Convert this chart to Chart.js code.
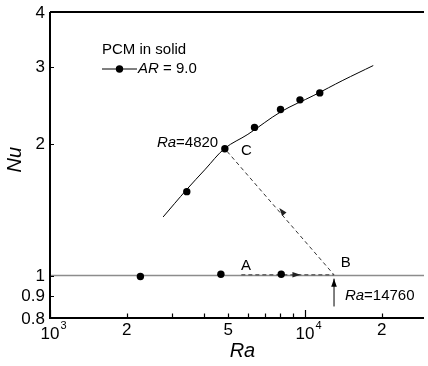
<!DOCTYPE html>
<html>
<head>
<meta charset="utf-8">
<script src="https://cdn.jsdelivr.net/npm/chart.js@4.4.1/dist/chart.umd.min.js"></script>
<style>
  html, body { margin: 0; padding: 0; background: #fff; }
  #wrap { width: 428px; height: 366px; position: relative; }
</style>
</head>
<body>
<div id="wrap"><canvas id="nuChart"></canvas></div>
<script>
// Fitted curve Nu(Ra) for PCM in solid, AR = 9.0
const curveRa = [2777, 3432, 4067, 4851, 5972, 8040, 10840, 14080, 18530];
const curveNu = [1.361, 1.571, 1.750, 1.953, 2.102, 2.366, 2.580, 2.792, 3.018];

// Measured points
const solidRa = [3440, 4850, 6340, 8020, 9560, 11430];
const solidNu = [1.555, 1.948, 2.18, 2.395, 2.52, 2.614];
const lowRa = [2262, 4680, 8070];
const lowNu = [0.995, 1.007, 1.007];

// Nu = 1 reference line
const refRa = [1000, 29300];
const refNu = [1, 1];

// Dashed path A -> B -> C
const pathRa = [5630, 13000, 4850];
const pathNu = [1.004, 1.004, 1.948];

// Vertical marker under B (Ra = 14760)
const markRa = [13000, 13000];
const markNu = [0.85, 0.984];

// Arrow heads: tip and the point they come from
const arrowRa = [9600, 7930, 13000];
const arrowNu = [1.004, 1.427, 0.984];
const arrowFromRa = [5630, 13000, 13000];
const arrowFromNu = [1.004, 1.004, 0.85];

// Axis ticks
const xTicks = [1000, 2000, 3000, 4000, 5000, 6000, 7000, 8000, 9000, 10000, 20000];
const xMajorTicks = [1000, 10000];
const xLabelValues = [1000, 2000, 5000, 10000, 20000];
const xLabelTexts = ['10', '2', '5', '10', '2'];
const xLabelSups = ['3', '', '', '4', ''];
const yTicks = [0.8, 0.9, 1, 2, 3, 4];
const yTickLabels = ['0.8', '0.9', '1', '2', '3', '4'];

const FONT = "'Liberation Sans', Arial, sans-serif";

function toXY(arrRa, arrNu) {
    return arrRa.map(function(ra, i) { return { x: ra, y: arrNu[i] }; });
}

function drawArrowHead(ctx, tip, from, len, half) {
    const ang = Math.atan2(tip[1] - from[1], tip[0] - from[0]);
    ctx.save();
    ctx.translate(tip[0], tip[1]);
    ctx.rotate(ang);
    ctx.beginPath();
    ctx.moveTo(0, 0);
    ctx.lineTo(-len, -half);
    ctx.lineTo(-len, half);
    ctx.closePath();
    ctx.fill();
    ctx.restore();
}

// text with an italic lead part, e.g. "Ra" + "=4820"
function drawMixed(ctx, italic, rest, x, y, align, size) {
    ctx.font = 'italic ' + size + 'px ' + FONT;
    const w1 = ctx.measureText(italic).width;
    ctx.font = size + 'px ' + FONT;
    const w2 = ctx.measureText(rest).width;
    let left = x;
    if (align === 'right') left = x - w1 - w2;
    ctx.textAlign = 'left';
    ctx.textBaseline = 'middle';
    ctx.font = 'italic ' + size + 'px ' + FONT;
    ctx.fillText(italic, left, y);
    ctx.font = size + 'px ' + FONT;
    ctx.fillText(rest, left + w1, y);
}

const decorPlugin = {
    id: 'decor',
    afterDraw: function(chart) {
        const ctx = chart.ctx;
        const xs = chart.scales.x;
        const ys = chart.scales.y;
        const area = chart.chartArea;
        const P = function(ra, nu) { return [xs.getPixelForValue(ra), ys.getPixelForValue(nu)]; };

        ctx.save();
        ctx.fillStyle = '#000';
        ctx.strokeStyle = '#000';

        // arrow heads
        for (let i = 0; i < arrowRa.length; i++) {
            ctx.fillStyle = i === 2 ? '#000' : '#222';
            drawArrowHead(ctx, P(arrowRa[i], arrowNu[i]), P(arrowFromRa[i], arrowFromNu[i]), 8, 2.8);
        }

        // frame: left, bottom, top
        ctx.lineWidth = 2;
        ctx.beginPath();
        ctx.moveTo(area.left, area.top);
        ctx.lineTo(area.left, area.bottom);
        ctx.lineTo(area.right, area.bottom);
        ctx.moveTo(area.left, area.top);
        ctx.lineTo(area.right, area.top);
        ctx.stroke();

        // inward ticks
        ctx.lineWidth = 1.2;
        ctx.beginPath();
        xTicks.forEach(function(v) {
            const x = Math.round(xs.getPixelForValue(v)) + 0.5;
            const len = xMajorTicks.indexOf(v) >= 0 ? 8 : 4.5;
            ctx.moveTo(x, area.bottom);
            ctx.lineTo(x, area.bottom - len);
        });
        yTicks.forEach(function(v) {
            const y = Math.round(ys.getPixelForValue(v)) + 0.5;
            ctx.moveTo(area.left, y);
            ctx.lineTo(area.left + 4, y);
        });
        ctx.stroke();

        // tick labels
        ctx.fillStyle = '#000';
        ctx.font = '17px ' + FONT;
        ctx.textAlign = 'right';
        ctx.textBaseline = 'middle';
        yTicks.forEach(function(v, i) {
            ctx.fillText(yTickLabels[i], area.left - 5, ys.getPixelForValue(v) + 1);
        });
        xLabelValues.forEach(function(v, i) {
            const x = xs.getPixelForValue(v);
            ctx.font = '17px ' + FONT;
            ctx.textAlign = 'center';
            ctx.textBaseline = 'middle';
            if (xLabelSups[i]) {
                ctx.fillText(xLabelTexts[i], x, area.bottom + 16);
                const w = ctx.measureText(xLabelTexts[i]).width;
                ctx.font = '11px ' + FONT;
                ctx.textAlign = 'left';
                ctx.fillText(xLabelSups[i], x + w / 2 + 1, area.bottom + 8);
            } else {
                ctx.fillText(xLabelTexts[i], x, area.bottom + 12);
            }
        });

        // axis titles
        ctx.font = 'italic 20px ' + FONT;
        ctx.textAlign = 'center';
        ctx.textBaseline = 'middle';
        ctx.fillText('Ra', xs.getPixelForValue(5685), area.bottom + 33);
        ctx.save();
        ctx.translate(15, ys.getPixelForValue(1.839));
        ctx.rotate(-Math.PI / 2);
        ctx.fillText('Nu', 0, 0);
        ctx.restore();

        // annotations
        drawMixed(ctx, 'Ra', '=4820', xs.getPixelForValue(4567), ys.getPixelForValue(2.007), 'right', 15);
        drawMixed(ctx, 'Ra', '=14760', xs.getPixelForValue(14340), ys.getPixelForValue(0.897), 'left', 15);
        ctx.font = '15px ' + FONT;
        ctx.textAlign = 'left';
        ctx.textBaseline = 'middle';
        ctx.fillText('C', xs.getPixelForValue(5610), ys.getPixelForValue(1.923));
        ctx.fillText('A', xs.getPixelForValue(5610), ys.getPixelForValue(1.054));
        ctx.fillText('B', xs.getPixelForValue(13830), ys.getPixelForValue(1.068));

        // legend
        const lx = area.left + 52;
        const ly = area.top + 38;
        ctx.fillText('PCM in solid', lx, ly);
        ctx.lineWidth = 1;
        ctx.beginPath();
        ctx.moveTo(lx, ly + 19);
        ctx.lineTo(lx + 35, ly + 19);
        ctx.stroke();
        ctx.beginPath();
        ctx.arc(lx + 17.5, ly + 19, 3.7, 0, Math.PI * 2);
        ctx.fill();
        drawMixed(ctx, 'AR', ' = 9.0', lx + 36, ly + 19, 'left', 15);

        ctx.restore();
    }
};

new Chart(document.getElementById('nuChart'), {
    type: 'line',
    data: {
        datasets: [
            {
                label: 'AR = 9.0',
                data: toXY(solidRa, solidNu).concat(toXY(lowRa, lowNu)),
                showLine: false,
                pointRadius: 3.7,
                pointBackgroundColor: '#000',
                pointBorderColor: '#000',
                pointBorderWidth: 0
            },
            {
                data: toXY(curveRa, curveNu),
                borderColor: '#000',
                borderWidth: 1,
                pointRadius: 0,
                tension: 0.35
            },
            {
                data: toXY(markRa, markNu),
                borderColor: '#000',
                borderWidth: 1,
                pointRadius: 0
            },
            {
                data: toXY(pathRa, pathNu),
                borderColor: '#333',
                borderWidth: 1,
                borderDash: [4, 3],
                pointRadius: 0,
                tension: 0
            },
            {
                data: toXY(refRa, refNu),
                borderColor: '#8c8c8c',
                borderWidth: 1.5,
                pointRadius: 0
            }
        ]
    },
    options: {
        responsive: true,
        maintainAspectRatio: false,
        animation: false,
        layout: {
            padding: { left: 50, top: 12, right: 0, bottom: 48 }
        },
        scales: {
            x: {
                type: 'logarithmic',
                min: 1000,
                max: 29300,
                display: false
            },
            y: {
                type: 'logarithmic',
                min: 0.8,
                max: 4,
                display: false
            }
        },
        plugins: {
            legend: { display: false },
            tooltip: { enabled: false }
        }
    },
    plugins: [decorPlugin]
});
</script>
</body>
</html>
